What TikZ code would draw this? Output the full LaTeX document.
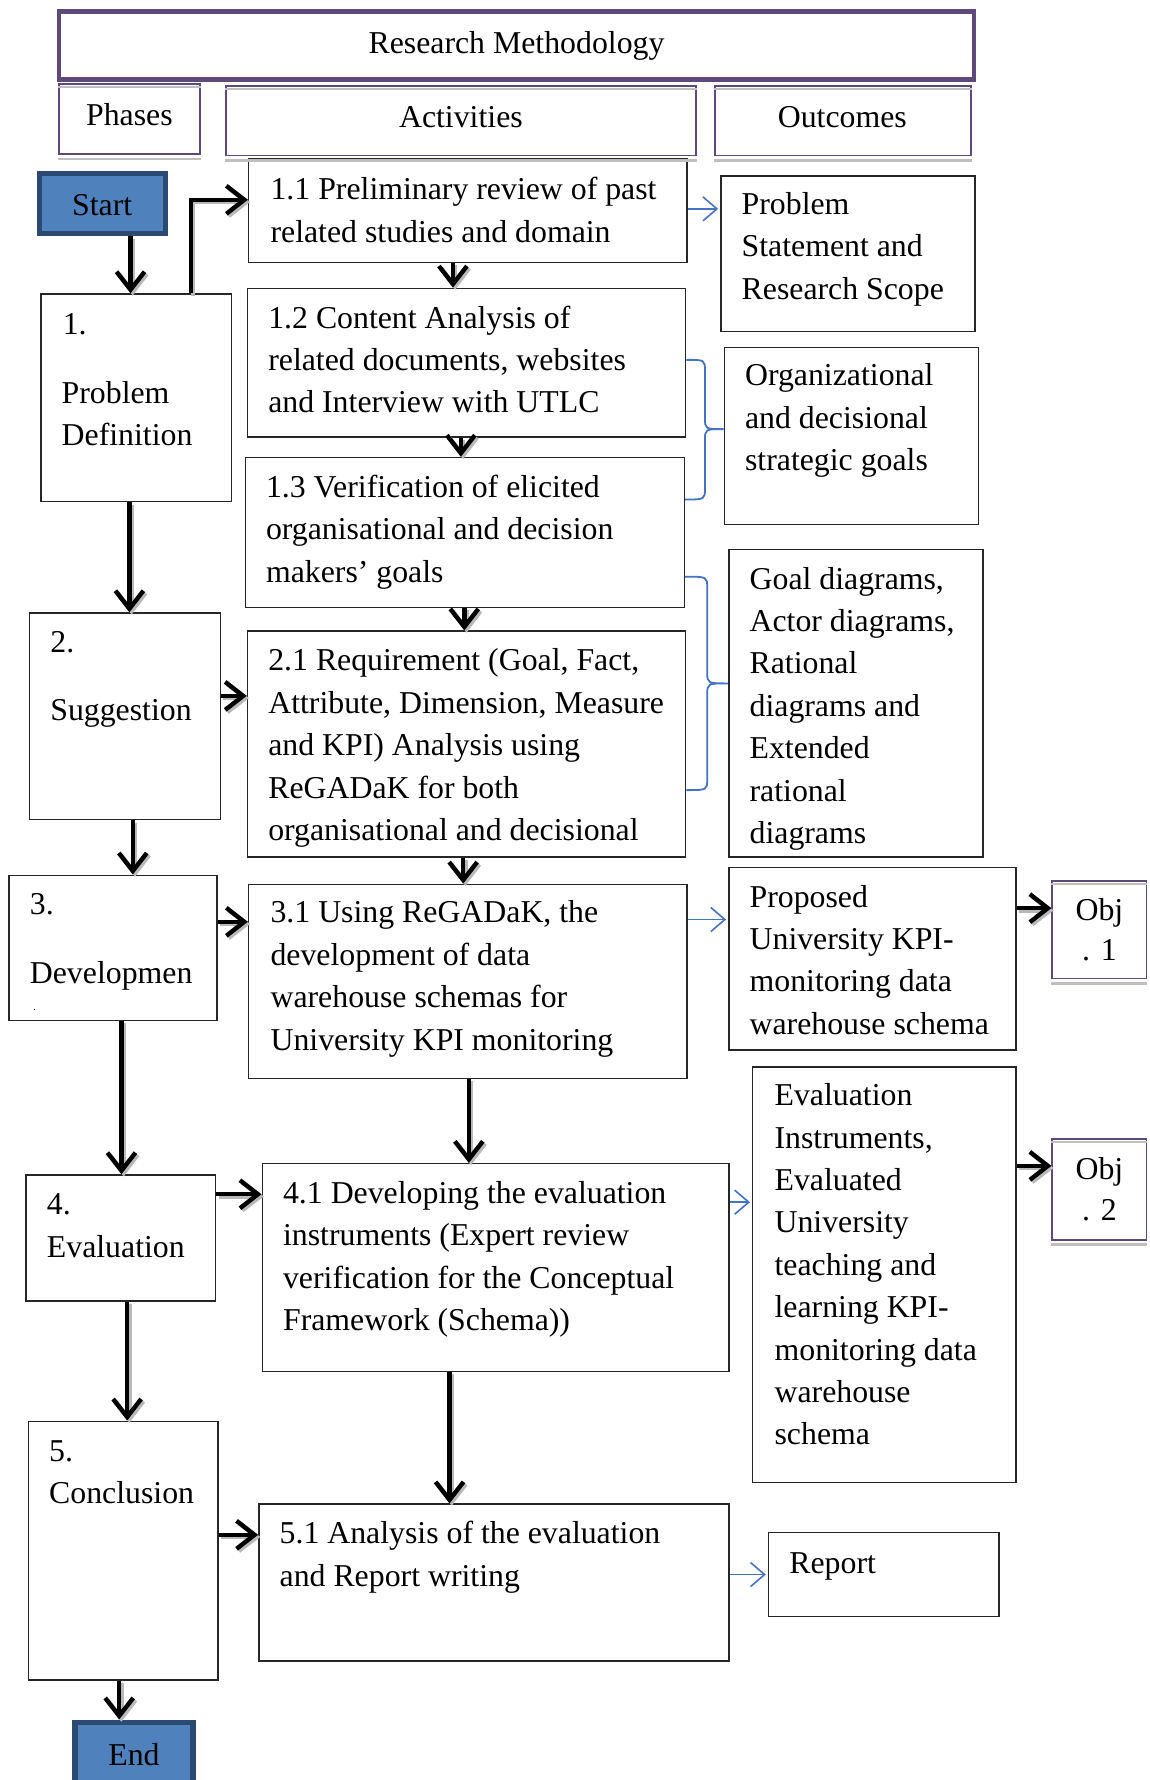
\documentclass[tikz,border=0pt]{standalone}
\usepackage{fontspec}
\setmainfont{Liberation Serif}
\usetikzlibrary{arrows.meta,fit}
\definecolor{hdrpurple}{HTML}{5F497A}
\definecolor{termfill}{HTML}{4F81BD}
\definecolor{termedge}{HTML}{2A4A72}
\definecolor{linkblue}{HTML}{4472C4}
% thick flow arrow with a soft grey drop shadow
\newcommand\flow[1]{\draw[flowshadow] #1; \draw[flowarrow] #1;}
\begin{document}
\begin{tikzpicture}[x=0.5676pt,y=-0.5676pt,
  font=\fontsize{15.9pt}{21.2pt}\selectfont,
  box/.style={draw=black!85, line width=0.7pt, inner sep=0pt},
  hdr/.style={draw=hdrpurple, line width=2.4pt, inner sep=0pt},
  sub/.style={draw=hdrpurple, line width=0.9pt, inner sep=0pt},
  term/.style={draw=termedge, fill=termfill, line width=2.6pt, inner sep=0pt},
  txt/.style={anchor=base west, inner sep=0pt, text width=9cm,
    execute at begin node={\spaceskip=0.25em plus 0.05em\relax}},
  ctxt/.style={inner sep=0pt, align=center},
  flowarrow/.style={draw=black, line width=2.2pt, -{Straight Barb[length=9pt,width=14pt]}},
  flowshadow/.style={flowarrow, draw=gray!55, transform canvas={shift={(1.1pt,-1.1pt)}}},
  link/.style={draw=linkblue, line width=0.8pt, -{Straight Barb[length=7pt,width=12pt]}},
  brace/.style={draw=linkblue, line width=0.9pt}]

\path[use as bounding box, fill=white] (0,0) rectangle (1013,1568);

% ---------- header row ----------
\node[hdr, fit={(52,10) (858,70)}] (hdr) {};
\node[ctxt] (hdrt) at (hdr.center) {Research Methodology};
\node[sub, fit={(52,74) (176,136)}] (ph) {};
\node[ctxt] (pht) at (114,101) {Phases};
\node[sub, fit={(199,76) (613,137)}] (ac) {};
\node[ctxt] (act) at (406,103) {Activities};
\node[sub, fit={(630,76) (855,137)}] (oc) {};
\node[ctxt] (oct) at (742,103) {Outcomes};

% ---------- terminals ----------
\node[term, fit={(35,153) (146,206)}] (start) {};
\node[ctxt] (startt) at (90,181) {Start};
\node[term, fit={(66,1517) (170,1578)}] (end) {};
\node[ctxt] (endt) at (118,1546) {End};

% ---------- phases ----------
\node[box, fit={(36,259) (204,442)}] (b1) {};
\node[txt] (b1a) at (55,295) {1.};
\node[txt] (b1b) at (54,355) {Problem\\Definition};
\node[box, fit={(26,540) (194,722)}] (b2) {};
\node[txt] (b2a) at (44,575) {2.};
\node[txt] (b2b) at (44,635) {Suggestion};
\node[box, fit={(8,771) (191,899)}] (b3) {};
\node[txt] (b3a) at (26,806) {3.};
\node[txt] (b3b) at (26,866) {Developmen};
\node[txt] (b3c) at (29,890) {\tiny .};
\node[box, fit={(23,1035) (190,1146)}] (b4) {};
\node[txt] (b4a) at (41,1070) {4.\\Evaluation};
\node[box, fit={(25,1252) (192,1480)}] (b5) {};
\node[txt] (b5a) at (43,1287) {5.\\Conclusion};

% ---------- activities ----------
\node[box, fit={(219,140) (605,231)}] (a11) {};
\node[txt] (a11t) at (238,176) {1.1 Preliminary review of past\\related studies and domain};
\node[box, fit={(218,254) (604,385)}] (a12) {};
\node[txt] (a12t) at (236,289) {1.2 Content Analysis of\\related documents, websites\\and Interview with UTLC};
\node[box, fit={(216,403) (603,535)}] (a13) {};
\node[txt] (a13t) at (234,438) {1.3 Verification of elicited\\organisational and decision\\makers’ goals};
\node[box, fit={(218,556) (604,755)}] (a21) {};
\node[txt] (a21t) at (236,591) {2.1 Requirement (Goal, Fact,\\Attribute, Dimension, Measure\\and KPI) Analysis using\\ReGADaK for both\\organisational and decisional};
\node[box, fit={(219,779) (605,950)}] (a31) {};
\node[txt] (a31t) at (238,813) {3.1 Using ReGADaK, the\\development of data\\warehouse schemas for\\University KPI monitoring};
\node[box, fit={(231,1025) (642,1208)}] (a41) {};
\node[txt] (a41t) at (249,1060) {4.1 Developing the evaluation\\instruments (Expert review\\verification for the Conceptual\\Framework (Schema))};
\node[box, fit={(228,1325) (642,1463)}] (a51) {};
\node[txt] (a51t) at (246,1360) {5.1 Analysis of the evaluation\\and Report writing};

% ---------- outcomes ----------
\node[box, fit={(635,155) (859,292)}] (o1) {};
\node[txt] (o1t) at (653,189) {Problem\\Statement and\\Research Scope};
\node[box, fit={(638,306) (862,462)}] (o2) {};
\node[txt] (o2t) at (656,340) {Organizational\\and decisional\\strategic goals};
\node[box, fit={(642,484) (866,755)}] (o3) {};
\node[txt] (o3t) at (660,519) {Goal diagrams,\\Actor diagrams,\\Rational\\diagrams and\\Extended\\rational\\diagrams};
\node[box, fit={(642,764) (895,925)}] (o4) {};
\node[txt] (o4t) at (660,799) {Proposed\\University KPI-\\monitoring data\\warehouse schema};
\node[box, fit={(663,940) (895,1306)}] (o5) {};
\node[txt] (o5t) at (682,974) {Evaluation\\Instruments,\\Evaluated\\University\\teaching and\\learning KPI-\\monitoring data\\warehouse\\schema};
\node[box, fit={(677,1350) (880,1424)}] (o6) {};
\node[txt] (o6t) at (695,1386) {Report};

% ---------- objectives ----------
\node[sub, fit={(927,776) (1010,862)}] (obj1) {};
\node[ctxt] (obj1t) at (obj1.center) {Obj\\[-1pt]. 1};
\node[sub, fit={(927,1003) (1010,1092)}] (obj2) {};
\node[ctxt] (obj2t) at (obj2.center) {Obj\\[-1pt]. 2};

% grey rules under the top and bottom edges of the purple boxes
\foreach \n in {ph,ac,oc,obj1,obj2}{
  \draw[gray!50, line width=1.1pt] ([yshift=-2pt]\n.north west) -- ([yshift=-2pt]\n.north east);
  \draw[gray!50, line width=1.1pt] ([yshift=-2pt]\n.south west) -- ([yshift=-2pt]\n.south east);
}

% ---------- phase flow ----------
\flow{(start.south -| 115,0) -- (b1.north -| 115,0)}
\flow{(b1.north -| 168,0) |- (a11.west |- 0,176)}
\flow{(b1.south -| 114,0) -- (b2.north -| 114,0)}
\flow{(b2.south -| 117,0) -- (b3.north -| 117,0)}
\flow{(b3.south -| 107,0) -- (b4.north -| 107,0)}
\flow{(b4.south -| 112,0) -- (b5.north -| 112,0)}
\flow{(b5.south -| 105,0) -- (end.north -| 105,0)}

% ---------- activity flow ----------
\flow{(a11.south -| 399,0) -- (a12.north -| 399,0)}
\flow{(a12.south -| 406,0) -- (a13.north -| 406,0)}
\flow{(a13.south -| 409,0) -- (a21.north -| 409,0)}
\flow{(a21.south -| 408,0) -- (a31.north -| 408,0)}
\flow{(a31.south -| 413,0) -- (a41.north -| 413,0)}
\flow{(a41.south -| 396,0) -- (a51.north -| 396,0)}

% ---------- phase to activity ----------
\flow{(b2.east |- 0,613) -- (a21.west |- 0,613)}
\flow{(b3.east |- 0,812) -- (a31.west |- 0,812)}
\flow{(b4.east |- 0,1052) -- (a41.west |- 0,1052)}
\flow{(b5.east |- 0,1352) -- (a51.west |- 0,1352)}

% ---------- outcomes to objectives ----------
\flow{(o4.east |- 0,800) -- (obj1.west |- 0,800)}
\flow{(o5.east |- 0,1027) -- (obj2.west |- 0,1027)}

% ---------- activity to outcome links ----------
\draw[link] (a11.east |- 0,184) -- ([xshift=-1pt]o1.west |- 0,184);
\draw[link] (a31.east |- 0,810) -- ([xshift=-1pt]o4.west |- 0,810);
\draw[link] (a41.east |- 0,1059) -- ([xshift=-1pt]o5.west |- 0,1059);
\draw[link] (a51.east |- 0,1387) -- ([xshift=-1pt]o6.west |- 0,1387);

% ---------- braces grouping activities ----------
\draw[brace] (a12.east |- 0,317) .. controls (621,317) .. (621,327) -- (621,368)
  .. controls (621,378) .. (o2.west |- 0,378) .. controls (621,378) .. (621,388)
  -- (621,430) .. controls (621,440) .. (a13.east |- 0,440);
\draw[brace] (a13.east |- 0,508) .. controls (623,508) .. (623,518) -- (623,592)
  .. controls (623,602) .. (o3.west |- 0,602) .. controls (623,602) .. (623,612)
  -- (623,686) .. controls (623,696) .. (a21.east |- 0,696);

\end{tikzpicture}
\end{document}
